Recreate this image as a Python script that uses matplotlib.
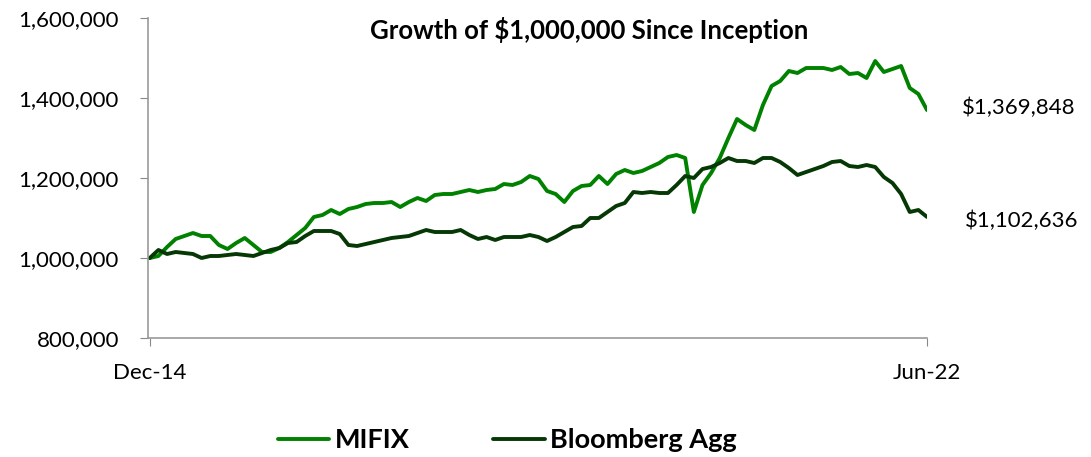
import matplotlib
matplotlib.use("Agg")
import matplotlib.pyplot as plt
from matplotlib.ticker import FuncFormatter

# monthly growth of $1,000,000, Dec-14 .. Jun-22 (91 months)
mifix = [
    1000000, 1005000, 1027500, 1047500, 1055000, 1062500, 1055000, 1055000, 1032500, 1022500,
    1037500, 1050000, 1032500, 1015000, 1015000, 1025000, 1040000, 1057500, 1075000, 1102500,
    1107500, 1120000, 1110000, 1122500, 1127500, 1135000, 1137500, 1137500, 1140000, 1127500,
    1140000, 1150000, 1142500, 1157500, 1160000, 1160000, 1165000, 1170000, 1165000, 1170000,
    1172500, 1185000, 1182500, 1190000, 1205000, 1197500, 1167500, 1160000, 1140000, 1167500,
    1180000, 1182500, 1205000, 1185000, 1210000, 1220000, 1212500, 1217500, 1227500, 1237500,
    1252500, 1257500, 1250000, 1115000, 1182500, 1212500, 1250000, 1300000, 1347500, 1332500,
    1320000, 1382500, 1430000, 1442500, 1467500, 1462500, 1475000, 1475000, 1475000, 1470000,
    1477500, 1460000, 1462500, 1450000, 1492500, 1465000, 1472500, 1480000, 1425000, 1410000,
    1369848,
]
agg = [
    1000000, 1020000, 1010000, 1015000, 1012500, 1010000, 1000000, 1005000, 1005000, 1007500,
    1010000, 1007500, 1005000, 1012500, 1020000, 1025000, 1037500, 1040000, 1055000, 1067500,
    1067500, 1067500, 1060000, 1032500, 1030000, 1035000, 1040000, 1045000, 1050000, 1052500,
    1055000, 1062500, 1070000, 1065000, 1065000, 1065000, 1070000, 1057500, 1047500, 1052500,
    1045000, 1052500, 1052500, 1052500, 1057500, 1052500, 1042500, 1052500, 1065000, 1077500,
    1080000, 1100000, 1100000, 1115000, 1130000, 1137500, 1165000, 1162500, 1165000, 1162500,
    1162500, 1182500, 1205000, 1200000, 1222500, 1227500, 1237500, 1250000, 1242500, 1242500,
    1237500, 1250000, 1250000, 1240000, 1225000, 1207500, 1215000, 1222500, 1230000, 1240000,
    1242500, 1230000, 1227500, 1232500, 1227500, 1202500, 1187500, 1160000, 1115000, 1120000,
    1102636,
]
x_labels = ["Dec-14", "Jun-22"]
series_names = ["MIFIX", "Bloomberg Agg"]

plt.rcParams["font.family"] = ["Lato", "DejaVu Sans"]

fig = plt.figure(figsize=(10.91, 4.57), dpi=100)
ax = fig.add_axes([0.1357, 0.2604, 0.714, 0.7002])

months = list(range(len(mifix)))
ax.plot(months, mifix, color="#008200", lw=2.8, label=series_names[0], solid_capstyle="round")
ax.plot(months, agg, color="#063806", lw=2.8, label=series_names[1], solid_capstyle="round")

ax.set_xlim(-0.2, len(mifix) - 1)
ax.set_ylim(800000, 1600000)
ax.set_yticks([800000, 1000000, 1200000, 1400000, 1600000])
ax.yaxis.set_major_formatter(FuncFormatter(lambda v, p: f"{v:,.0f}"))
ax.set_xticks([0, len(mifix) - 1])
ax.set_xticklabels(x_labels)
ax.tick_params(axis="both", labelsize=16, colors="#888888", labelcolor="black",
               direction="out", length=6)
ax.tick_params(axis="y", pad=15)
ax.tick_params(axis="x", pad=12)
for s in ["top", "right"]:
    ax.spines[s].set_visible(False)
for s in ["left", "bottom"]:
    ax.spines[s].set_color("#999999")
    ax.spines[s].set_linewidth(1.2)

fig.text(0.54, 0.935, "Growth of $1,000,000 Since Inception", ha="center", va="center",
         fontsize=18.5, fontweight="bold")

ax.annotate(f"${mifix[-1]:,.0f}", xy=(len(mifix) - 1, mifix[-1]), xytext=(25, 1.5),
            textcoords="offset points", fontsize=16, va="center", ha="left",
            annotation_clip=False)
ax.annotate(f"${agg[-1]:,.0f}", xy=(len(agg) - 1, agg[-1]), xytext=(27, -3),
            textcoords="offset points", fontsize=16, va="center", ha="left",
            annotation_clip=False)

fig.legend(loc="center", bbox_to_anchor=(0.465, 0.037), ncol=2, frameon=False,
           prop={"weight": "bold", "size": 19.5}, handlelength=1.9, columnspacing=3.1,
           handletextpad=0.2)

fig.savefig("out.png", dpi=100)
